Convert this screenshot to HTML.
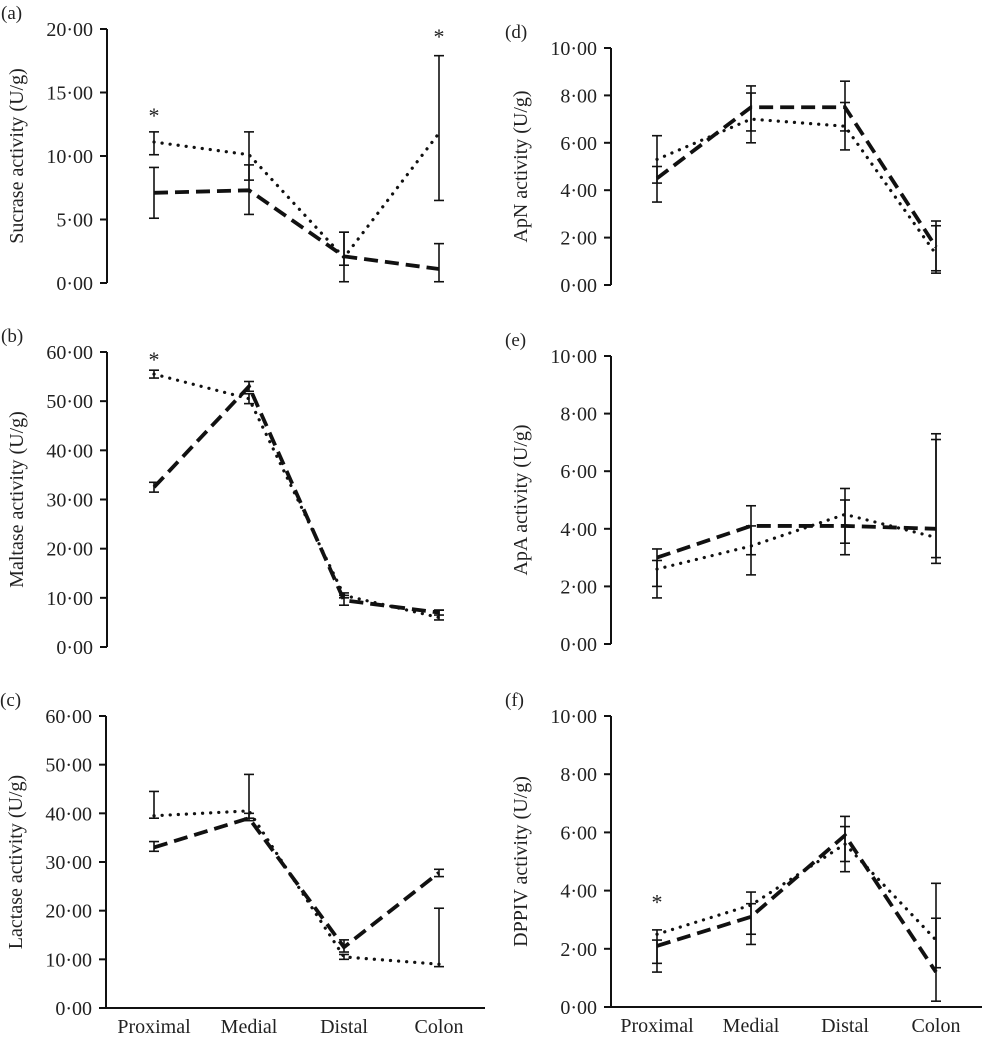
<!DOCTYPE html>
<html><head><meta charset="utf-8"><style>
body{margin:0;background:#fff}
svg{display:block}
text{font-family:"Liberation Serif",serif;fill:#222}
</style></head><body>
<svg id="c" width="982" height="1038"></svg>
<script>
const categories=["Proximal","Medial","Distal","Colon"];
const aDot=[11.1,10.1,2.0,11.8], aDotHi=[11.9,11.9,4.0,17.9], aDotLo=[10.1,8.1,1.4,6.5];
const aDash=[7.1,7.3,2.1,1.1], aDashHi=[9.1,9.3,4.0,3.1], aDashLo=[5.1,5.4,0.1,0.1];
const bDot=[55.5,50.5,10.5,6.0], bDotHi=[56.3,51.5,11,7.5], bDotLo=[54.7,49.5,10,5.5];
const bDash=[32.5,53,9.5,7], bDashHi=[33.5,54,10.5,7.5], bDashLo=[31.5,52,8.5,6.5];
const cDot=[39.5,40.5,10.5,9], cDotHi=[44.5,48,11,20.5], cDotLo=[39,39,10,8.5];
const cDash=[33,39,12.5,27.8], cDashHi=[34.2,40,14,28.5], cDashLo=[32.2,38.5,11.5,27];
const dDot=[5.3,7.0,6.7,1.3], dDotHi=[6.3,8.1,7.7,2.7], dDotLo=[4.3,6.0,5.7,0.5];
const dDash=[4.5,7.5,7.5,1.6], dDashHi=[5.0,8.4,8.6,2.5], dDashLo=[3.5,6.5,6.5,0.6];
const eDot=[2.6,3.4,4.5,3.7], eDotHi=[2.9,4.1,5.4,7.3], eDotLo=[1.6,2.4,3.5,2.8];
const eDash=[3.0,4.1,4.1,4.0], eDashHi=[3.3,4.8,5.0,7.1], eDashLo=[2.0,3.1,3.1,3.0];
const fDot=[2.5,3.5,5.6,2.3], fDotHi=[2.65,3.95,6.2,4.25], fDotLo=[1.5,2.5,4.65,1.35];
const fDash=[2.1,3.1,5.9,1.2], fDashHi=[2.3,3.55,6.55,3.05], fDashLo=[1.2,2.15,5.0,0.2];
const leftTicks=[0,5,10,15,20], bigTicks=[0,10,20,30,40,50,60], smallTicks=[0,2,4,6,8,10];
const NS="http://www.w3.org/2000/svg", svg=document.getElementById('c');
function el(t,a,p){const e=document.createElementNS(NS,t);for(const k in a)e.setAttribute(k,a[k]);(p||svg).appendChild(e);return e;}
const L=[154,249,344,439], R=[657,751,845,936];
const panels=[
 {id:'a',ax:107,cx:L,top:29,bot:283,max:20,ticks:leftTicks,title:'Sucrase activity (U/g)',s:[[aDot,aDotHi,aDotLo],[aDash,aDashHi,aDashLo]],stars:[[0,13.4],[3,19.6]],xaxis:false},
 {id:'b',ax:107,cx:L,top:352,bot:647,max:60,ticks:bigTicks,title:'Maltase activity (U/g)',s:[[bDot,bDotHi,bDotLo],[bDash,bDashHi,bDashLo]],stars:[[0,59]],xaxis:false},
 {id:'c',ax:106,cx:L,top:716,bot:1008,max:60,ticks:bigTicks,title:'Lactase activity (U/g)',s:[[cDot,cDotHi,cDotLo],[cDash,cDashHi,cDashLo]],stars:[],xaxis:true,xend:485},
 {id:'d',ax:611,cx:R,top:48,bot:285,max:10,ticks:smallTicks,title:'ApN activity (U/g)',s:[[dDot,dDotHi,dDotLo],[dDash,dDashHi,dDashLo]],stars:[],xaxis:false},
 {id:'e',ax:611,cx:R,top:356,bot:644,max:10,ticks:smallTicks,title:'ApA activity (U/g)',s:[[eDot,eDotHi,eDotLo],[eDash,eDashHi,eDashLo]],stars:[],xaxis:false},
 {id:'f',ax:611,cx:R,top:716,bot:1007,max:10,ticks:smallTicks,title:'DPPIV activity (U/g)',s:[[fDot,fDotHi,fDotLo],[fDash,fDashHi,fDashLo]],stars:[[0,3.7]],xaxis:true,xend:982}
];
panels.forEach(p=>{
 const g=el('g',{});
 
 
 const y=v=>p.bot-(v/p.max)*(p.bot-p.top);
 const lab=el('text',{x:p.ax-106,y:p.top-10,'font-size':19,'font-family':'Liberation Sans'},g);lab.textContent='('+p.id+')';
 
 const axl=el('line',{x1:p.ax,x2:p.ax,y1:p.top,y2:p.bot,stroke:'#111','stroke-width':2},g);
 
 p.ticks.forEach(t=>{
  el('line',{x1:p.ax-7,x2:p.ax,y1:y(t),y2:y(t),stroke:'#111','stroke-width':2},g);
  const tx=el('text',{x:p.ax-14,y:y(t)+7,'text-anchor':'end','font-size':20},g);tx.textContent=t.toFixed(2).replace('.','·');
  
 });
 const mid=(p.top+p.bot)/2;
 const tt=el('text',{x:p.ax-84,y:mid,'font-size':20,'text-anchor':'middle',transform:`rotate(-90 ${p.ax-84} ${mid})`},g);tt.textContent=p.title;
 
 if(p.xaxis){
  const xl=el('line',{x1:p.ax-7,x2:p.xend,y1:p.bot,y2:p.bot,stroke:'#111','stroke-width':2},g);
  
  categories.forEach((c,i)=>{const t=el('text',{x:p.cx[i],y:p.bot+25,'text-anchor':'middle','font-size':20},g);t.textContent=c;
   });
 }
 p.s.forEach(([vals,hi,lo],si)=>{
  const nm=si===0?'dotted':'dashed';
  vals.forEach((v,i)=>{
   const x=p.cx[i];
   el('line',{x1:x,x2:x,y1:y(hi[i]),y2:y(lo[i]),stroke:'#111','stroke-width':1.6},g);
   el('line',{x1:x-5,x2:x+5,y1:y(hi[i]),y2:y(hi[i]),stroke:'#111','stroke-width':1.6},g);
   el('line',{x1:x-5,x2:x+5,y1:y(lo[i]),y2:y(lo[i]),stroke:'#111','stroke-width':1.6},g);
  });
  const pl=el('polyline',{points:vals.map((v,i)=>p.cx[i]+','+y(v)).join(' '),fill:'none',stroke:'#111','stroke-width':si===0?3.2:3.8,'stroke-dasharray':si===0?'0.1 8':'14 7','stroke-linecap':si===0?'round':'butt'},g);
  
 });
 p.stars.forEach(s=>{const t=el('text',{x:p.cx[s[0]],y:y(s[1])+10,'text-anchor':'middle','font-size':22},g);t.textContent='*';
  });
});
</script>
</body></html>
